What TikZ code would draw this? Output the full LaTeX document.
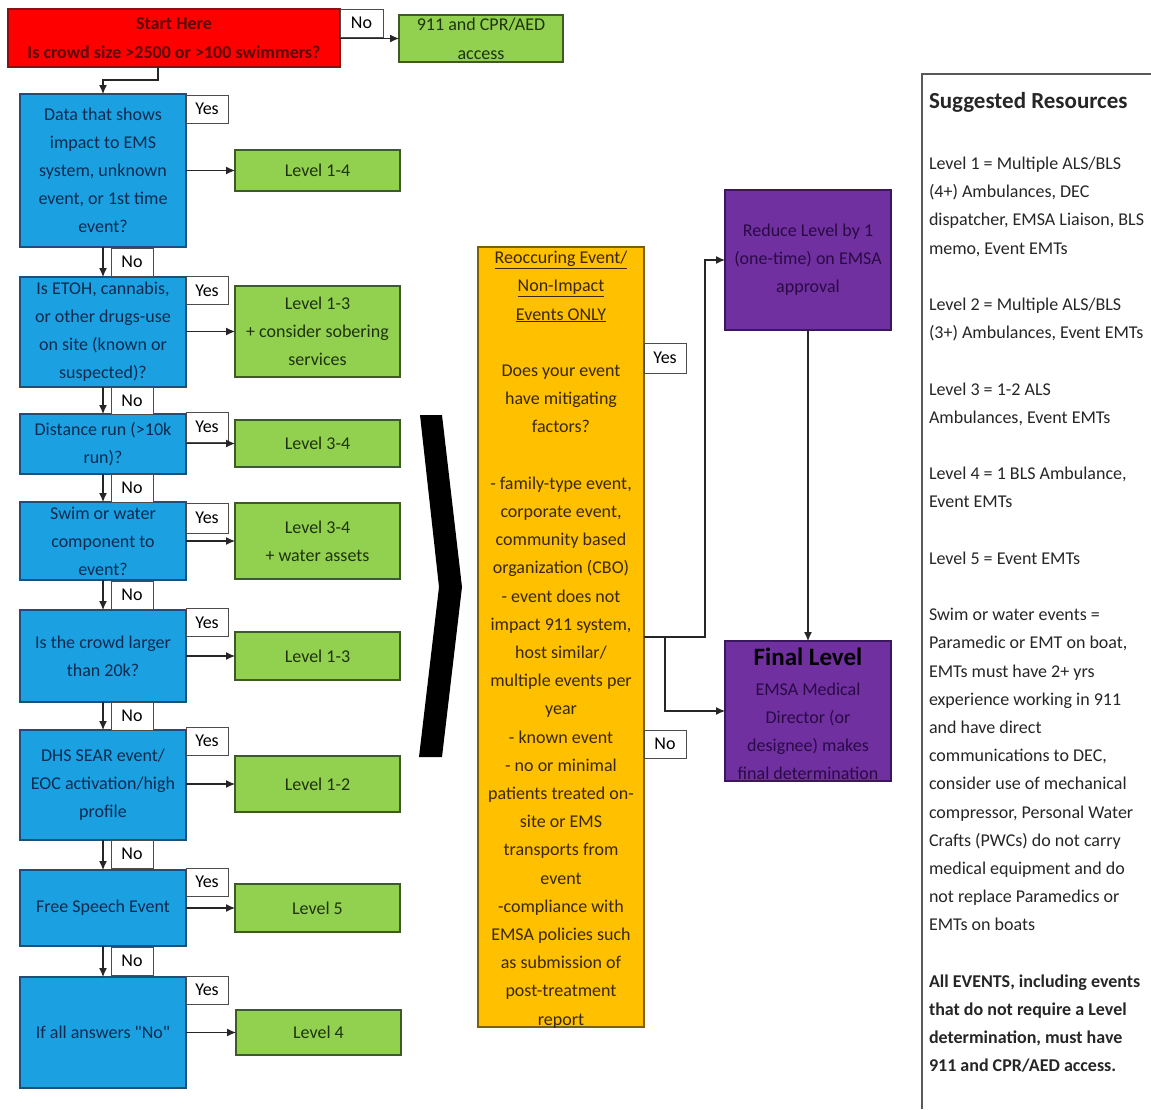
\documentclass[tikz,border=0pt]{standalone}
\usepackage{fontspec}
\setmainfont{Carlito}
\newfontfamily\plainq{Carlito}[Ligatures=TeXOff]
\usetikzlibrary{arrows.meta}
\definecolor{redF}{HTML}{FF0000}
\definecolor{redD}{HTML}{8C1010}
\definecolor{redT}{HTML}{5A0808}
\definecolor{blueF}{HTML}{1BA1E2}
\definecolor{blueD}{HTML}{1F4E79}
\definecolor{blueT}{HTML}{0E2A4E}
\definecolor{greenF}{HTML}{92D050}
\definecolor{greenD}{HTML}{3F5A25}
\definecolor{greenT}{HTML}{1E330C}
\definecolor{orangeF}{HTML}{FFC000}
\definecolor{orangeD}{HTML}{7F6000}
\definecolor{orangeT}{HTML}{3A2900}
\definecolor{purpleF}{HTML}{7030A0}
\definecolor{purpleD}{HTML}{3A1760}
\definecolor{purpleT}{HTML}{2A0A45}
\newcommand\myfs{\fontsize{18}{28}\selectfont}
\newcommand\myfsb{\fontsize{18}{28.2}\selectfont}
\newcommand\sq{{\plainq\char"0022\relax}}
\begin{document}
\begin{tikzpicture}[x=1pt,y=-1pt,
  every node/.style={inner sep=0pt, outer sep=0pt},
  redbox/.style={draw=redD, fill=redF, line width=1.2pt, text=redT, align=center, font=\fontsize{18}{29}\selectfont\bfseries},
  qbox/.style={draw=blueD, fill=blueF, line width=1.2pt, text=blueT, align=center, minimum width=166pt, font=\myfs},
  gbox/.style={draw=greenD, fill=greenF, line width=1.2pt, text=greenT, align=center, minimum width=165pt, font=\myfs},
  pbox/.style={draw=purpleD, fill=purpleF, line width=1.2pt, text=purpleT, align=center, minimum width=166pt, minimum height=140pt, font=\myfs},
  lbl/.style={draw=black!70, fill=white, line width=1pt, minimum width=42pt, minimum height=28pt, font=\myfs},
  arr/.style={-{Latex[length=9pt,width=8pt]}, line width=1.1pt, draw=black!85}
]
\useasboundingbox (0,0) rectangle (1151,1109);
\fill[white] (0,0) rectangle (1151,1109);

% start
\node[redbox, minimum width=332pt, minimum height=58pt] (start) at (174,38) {Start Here\\Is crowd size >2500 or >100 swimmers?};
\node[lbl, minimum width=43pt] (no0) at (361.5,23) {No};
\node[gbox, minimum width=164pt, minimum height=47pt, font=\fontsize{18}{29}\selectfont] (g0) at (481,38.5) {911 and CPR/AED\\access};
\draw[arr] (start.east |- g0.west) -- (g0.west);

% question boxes
\node[qbox, minimum height=153pt] (b1) at (103,170.5) {Data that shows\\impact to EMS\\system, unknown\\event, or 1st time\\event?};
\node[qbox, minimum height=110pt] (b2) at (103,332) {Is ETOH, cannabis,\\or other drugs-use\\on site (known or\\suspected)?};
\node[qbox, minimum height=60pt] (b3) at (103,444) {Distance run (>10k\\run)?};
\node[qbox, minimum height=78pt] (b4) at (103,541) {Swim or water\\component to\\event?};
\node[qbox, minimum height=92pt] (b5) at (103,656) {Is the crowd larger\\than 20k?};
\node[qbox, minimum height=110pt] (b6) at (103,785) {DHS SEAR event/\\EOC activation/high\\profile};
\node[qbox, minimum height=76pt] (b7) at (103,908) {Free Speech Event};
\node[qbox, minimum height=111pt] (b8) at (103,1032.5) {If all answers \sq No\sq};

\draw[arr] ([xshift=-16pt]start.south) -- ++(0,13) -| (b1.north);

% green result boxes
\node[gbox, minimum height=41pt] (g1) at (317.5,170.5) {Level 1-4};
\node[gbox, minimum height=91pt] (g2) at (317.5,331.5) {Level 1-3\\+ consider sobering\\services};
\node[gbox, minimum height=47pt] (g3) at (317.5,443.5) {Level 3-4};
\node[gbox, minimum height=76pt] (g4) at (317.5,541) {Level 3-4\\+ water assets};
\node[gbox, minimum height=48pt] (g5) at (317.5,656) {Level 1-3};
\node[gbox, minimum height=56pt] (g6) at (317.5,784) {Level 1-2};
\node[gbox, minimum height=48pt] (g7) at (317.5,908) {Level 5};
\node[gbox, minimum height=45pt] (g8) at (318.5,1032.5) {Level 4};

% yes labels
\node[lbl] (y1) at (207,109) {Yes};
\node[lbl] (y2) at (207,290.5) {Yes};
\node[lbl, minimum height=30pt] (y3) at (207,427) {Yes};
\node[lbl, minimum height=30pt] (y4) at (207,518) {Yes};
\node[lbl] (y5) at (207,622.5) {Yes};
\node[lbl] (y6) at (207,741) {Yes};
\node[lbl] (y7) at (207,882) {Yes};
\node[lbl] (y8) at (207,990) {Yes};

% no labels
\node[lbl] (n1) at (132,262) {No};
\node[lbl, minimum height=27pt] (n2) at (132,400.5) {No};
\node[lbl] (n3) at (132,488) {No};
\node[lbl] (n4) at (132,595) {No};
\node[lbl] (n5) at (132,716) {No};
\node[lbl] (n6) at (132,854) {No};
\node[lbl] (n7) at (132,961) {No};

% yes arrows
\foreach \i in {1,...,8} {
  \draw[arr] (b\i.east |- g\i.west) -- (g\i.west);
}
% no arrows
\foreach \i/\j in {1/2,2/3,3/4,4/5,5/6,6/7,7/8} {
  \draw[arr] (b\i.south) -- (b\j.north);
}

% chevron
\fill[black] (420,415) -- (442,415) -- (462,587) -- (442,757) -- (419,757) -- (439,587) -- cycle;

% orange box
\node[draw=orangeD, fill=orangeF, line width=1.2pt, minimum width=166pt, minimum height=780pt] (o) at (561,637) {};
\node[align=center, text=orangeT, font=\myfsb] (otx) at (561,639.5) {\underline{Reoccuring Event/}\\\underline{Non-Impact}\\\underline{Events ONLY}\\[28.2pt]
Does your event\\have mitigating\\factors?\\[28.2pt]
- family-type event,\\corporate event,\\community based\\organization (CBO)\\- event does not\\impact 911 system,\\host similar/\\multiple events per\\year\\- known event\\- no or minimal\\patients treated on-\\site or EMS\\transports from\\event\\-compliance with\\EMSA policies such\\as submission of\\post-treatment\\report};

\node[lbl, minimum height=30pt] (oy) at (665,358) {Yes};
\node[lbl] (on) at (665,744) {No};

% purple boxes
\node[pbox] (p1) at (808,260) {Reduce Level by 1\\(one-time) on EMSA\\approval};
\node[pbox] (f) at (808,711) {};
\node[text=black, font=\fontsize{25}{28}\selectfont\bfseries] (ftitle) at (808,657) {Final Level};
\node[align=center, text=purpleT, font=\myfs] (ftx) at (808,731) {EMSA Medical\\Director (or\\designee) makes\\final determination};

\coordinate (j1) at (705,637);
\coordinate (j2) at (665,637);
\draw[arr] (o.east |- j1) -- (j1) |- (p1.west);
\draw[arr] (j2) |- (f.west);
\draw[arr] (p1.south) -- (f.north);

% resources panel
\draw[line width=1.2pt, draw=black!65] (922,1109) -- (922,74) -- (1151,74);
\node[anchor=west, font=\fontsize{23}{28}\selectfont\bfseries, text=black!85] (rtitle) at (929,102) {Suggested Resources};
\node[anchor=north west, align=left, font=\fontsize{18}{28.2}\selectfont, text=black!85] (rtx) at (929,157) {Level 1 = Multiple ALS/BLS\\(4+) Ambulances, DEC\\dispatcher, EMSA Liaison, BLS\\memo, Event EMTs\\[28.2pt]
Level 2 = Multiple ALS/BLS\\(3+) Ambulances, Event EMTs\\[28.2pt]
Level 3 = 1-2 ALS\\Ambulances, Event EMTs\\[28.2pt]
Level 4 = 1 BLS Ambulance,\\Event EMTs\\[28.2pt]
Level 5 = Event EMTs\\[28.2pt]
Swim or water events =\\Paramedic or EMT on boat,\\EMTs must have 2+ yrs\\experience working in 911\\and have direct\\communications to DEC,\\consider use of mechanical\\compressor, Personal Water\\Crafts (PWCs) do not carry\\medical equipment and do\\not replace Paramedics or\\EMTs on boats\\[28.2pt]
\textbf{All EVENTS, including events}\\\textbf{that do not require a Level}\\\textbf{determination, must have}\\\textbf{911 and CPR/AED access.}};
\end{tikzpicture}
\end{document}
